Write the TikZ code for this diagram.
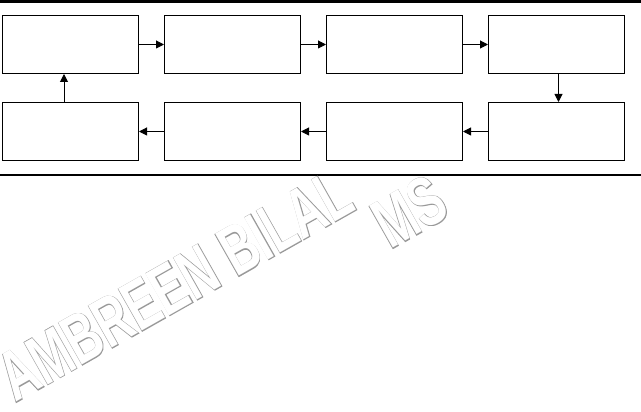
\documentclass[tikz,border=0pt]{standalone}
\usepackage{fontspec}
\usepackage{tikz}
\usepackage{xcolor}
\usetikzlibrary{positioning,arrows.meta}
\newfontfamily\markfont{Liberation Sans}[UprightFont=* Bold]
\newfontfamily\markedge{Liberation Sans}[UprightFont=* Bold,FakeBold=2]

\begin{document}
\begin{tikzpicture}[x=1pt,y=1pt,
                caja/.style={draw,line width=1pt,minimum width=136pt,minimum height=58pt,inner sep=0pt},
                flecha/.style={-{Triangle[length=8pt,width=8pt]},line width=1pt},
                marca/.style={inner sep=0pt,anchor=base west,rotate=29.5,xscale=0.68},
                borde/.style={marca,text=black!40,font=\markedge\fontsize{70}{70}\selectfont},
                relleno/.style={marca,text=white,font=\markfont\fontsize{70}{70}\selectfont},
                node distance=28pt and 25pt]
                \useasboundingbox (0,0) rectangle (641,412);
                \draw[line width=2.5pt] (0,410.5) -- (641,410.5);
                \draw[line width=2pt] (0,237) -- (641,237);
                % watermark: grey emboldened copy under a white copy
                \node[borde] (nombre) at (15,9) {AMBREEN BILAL};
                \node[relleno] at (nombre.base west) {AMBREEN BILAL};
                \node[borde] (grado) at (390,162) {MS};
                \node[relleno] at (grado.base west) {MS};
                \node[caja] (c1) at (70.5,367.5) {};
                \node[caja,right=of c1] (c2) {};
                \node[caja,right=of c2] (c3) {};
                \node[caja,right=of c3] (c4) {};
                \node[caja,below=of c4] (c8) {};
                \node[caja,left=of c8] (c7) {};
                \node[caja,left=of c7] (c6) {};
                \node[caja,left=of c6] (c5) {};
                \draw[flecha] (c1) -- (c2);
                \draw[flecha] (c2) -- (c3);
                \draw[flecha] (c3) -- (c4);
                \draw[flecha] ([xshift=2pt]c4.south) -- ([xshift=2pt]c8.north);
                \draw[flecha] (c8) -- (c7);
                \draw[flecha] (c7) -- (c6);
                \draw[flecha] (c6) -- (c5);
                \draw[flecha] ([xshift=-6.5pt]c5.north) -- ([xshift=-6.5pt]c1.south);
            \end{tikzpicture}
\end{document}
